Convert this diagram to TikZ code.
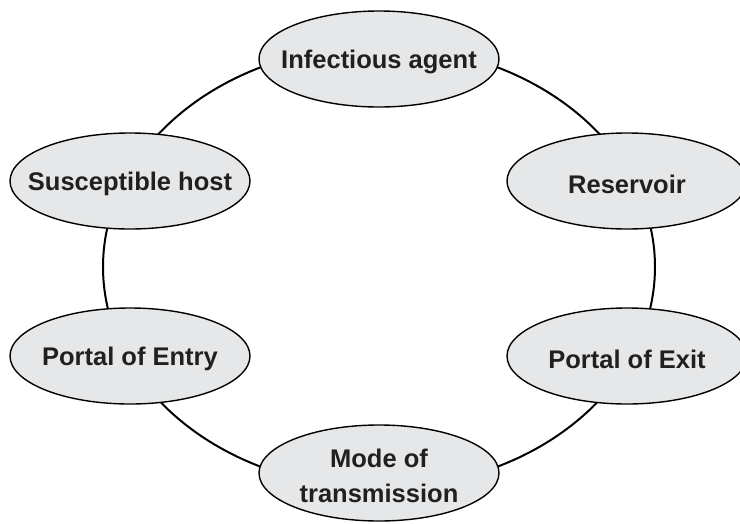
\documentclass[tikz,border=0pt]{standalone}
\usepackage{fontspec}
\setmainfont{Liberation Sans}
\usetikzlibrary{shapes.geometric}
\definecolor{fillgray}{HTML}{E6E7E8}
\definecolor{textdark}{HTML}{231F20}
\begin{document}
\begin{tikzpicture}[x=1pt,y=-1pt,
  stage/.style={ellipse, draw=black, line width=1.4pt, fill=fillgray,
    minimum width=240pt, minimum height=96pt, inner sep=0pt},
  stagetext/.style={text=textdark, font=\fontsize{25.5}{35}\selectfont\bfseries,
    align=center, inner sep=0pt},
  ring/.style={draw=black, line width=2pt}]
  \useasboundingbox (0,0) rectangle (740,523);
  \coordinate (c) at (379,267);
  \draw[ring] (c) ellipse [x radius=276, y radius=221];
  \node[stage] (agent) at (379,59) {};
  \node[stagetext] (agentT) at ([yshift=-3pt]agent) {Infectious agent};
  \node[stage] (res) at (627,181) {};
  \node[stagetext] (resT) at ([yshift=-3pt]res) {Reservoir};
  \node[stage] (host) at (130,181) {};
  \node[stagetext] (hostT) at ([yshift=-3pt]host) {Susceptible host};
  \node[stage] (entry) at (130,356) {};
  \node[stagetext] (entryT) at ([yshift=-3pt]entry) {Portal of Entry};
  \node[stage] (exit) at (627,356) {};
  \node[stagetext] (exitT) at ([yshift=-3pt]exit) {Portal of Exit};
  \node[stage] (mode) at (379,473) {};
  \node[stagetext] (modeT) at ([yshift=-3pt]mode) {Mode of\\transmission};
\end{tikzpicture}
\end{document}
